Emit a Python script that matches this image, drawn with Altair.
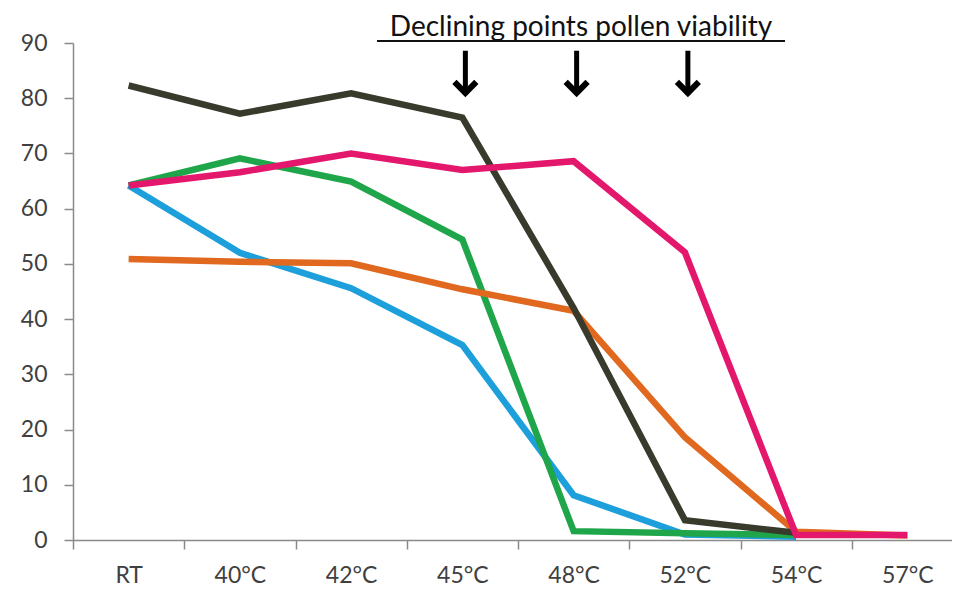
import altair as alt
import pandas as pd

categories = ["RT", "40°C", "42°C", "45°C", "48°C", "52°C", "54°C", "57°C"]

series_names = ["Blue", "Green", "Orange", "Black", "Pink"]
blue = [64.2, 52.0, 45.6, 35.3, 8.1, 1.0, 0.6]
green = [64.2, 69.1, 64.9, 54.4, 1.6, 1.2, 0.9]
orange = [50.9, 50.4, 50.1, 45.4, 41.5, 18.6, 1.5, 0.8]
black = [82.3, 77.2, 80.9, 76.5, 42.0, 3.6, 1.3]
pink = [64.2, 66.6, 70.0, 67.0, 68.6, 52.1, 0.9, 0.9]
series_values = [blue, green, orange, black, pink]
series_colors = ["#1c9fdb", "#1fa64a", "#e0681f", "#383a2c", "#e3176c"]

arrow_at = ["45°C", "48°C", "52°C"]
arrow_top = 88.6
arrow_tip = 80.6

title_text = "Declining points pollen viability"

FONT = "Lato"

x_scale = alt.Scale(domain=categories, range=[0, 890], paddingInner=0, paddingOuter=0)
y_scale = alt.Scale(domain=[0, 90], nice=False)

x_axis = alt.Axis(
    title=None, labelAngle=0, labelFontSize=23, labelColor="#404040", labelFont=FONT,
    tickBand="extent", tickSize=9, tickColor="#8a8a8a", domainColor="#8a8a8a",
    domainWidth=1.5, tickWidth=1.5, labelPadding=15, grid=False,
)
y_axis = alt.Axis(
    title=None, values=list(range(0, 91, 10)), labelFontSize=23, labelColor="#404040",
    labelFont=FONT, tickSize=9, tickColor="#8a8a8a", domainColor="#8a8a8a",
    domainWidth=1.5, tickWidth=1.5, labelPadding=17, grid=False,
)

def X(field):
    return alt.X(field, type="nominal", scale=x_scale, sort=categories, axis=x_axis)

def Y(field):
    return alt.Y(field, type="quantitative", scale=y_scale, axis=y_axis)

layers = []
for name, vals, col in zip(series_names, series_values, series_colors):
    df = pd.DataFrame({"temp": categories[: len(vals)], "value": vals, "series": name, "ord": range(len(vals))})
    layers.append(
        alt.Chart(df).mark_line(color=col, strokeWidth=6.5, strokeJoin="miter", strokeCap="butt").encode(
            x=X("temp"), y=Y("value"), order="ord:Q"
        )
    )

arrows_df = pd.DataFrame({"temp": arrow_at, "top": [arrow_top] * 3, "tip": [arrow_tip] * 3})
shaft = alt.Chart(arrows_df).mark_rule(color="black", strokeWidth=5, xOffset=3).encode(
    x=X("temp"), y=Y("top"), y2=alt.Y2("tip:Q"),
)
head = alt.Chart(arrows_df).mark_point(
    shape="M -1 -1 L 0 0 L 1 -1", filled=False, stroke="black", strokeWidth=6,
    size=480, opacity=1, xOffset=3, yOffset=-2, strokeJoin="miter",
).encode(x=X("temp"), y=Y("tip"))

title_df = pd.DataFrame({"label": [title_text]})
title = alt.Chart(title_df).mark_text(
    font=FONT, fontSize=28, color="#111111", align="center", baseline="alphabetic"
).encode(text="label:N", x=alt.value(508), y=alt.value(-7))
underline = alt.Chart(title_df).mark_rule(color="#111111", strokeWidth=1.8).encode(
    x=alt.value(304), x2=alt.value(712), y=alt.value(-2)
)

chart = alt.layer(*layers, shaft, head, title, underline).properties(
    width=879, height=497,
    autosize=alt.AutoSizeParams(type="none"),
    padding={"left": 65, "top": 35, "right": 0, "bottom": 46},
    background="white",
).configure_view(stroke=None)

chart.save("out.html", embed_options={"renderer": "svg", "actions": False})
